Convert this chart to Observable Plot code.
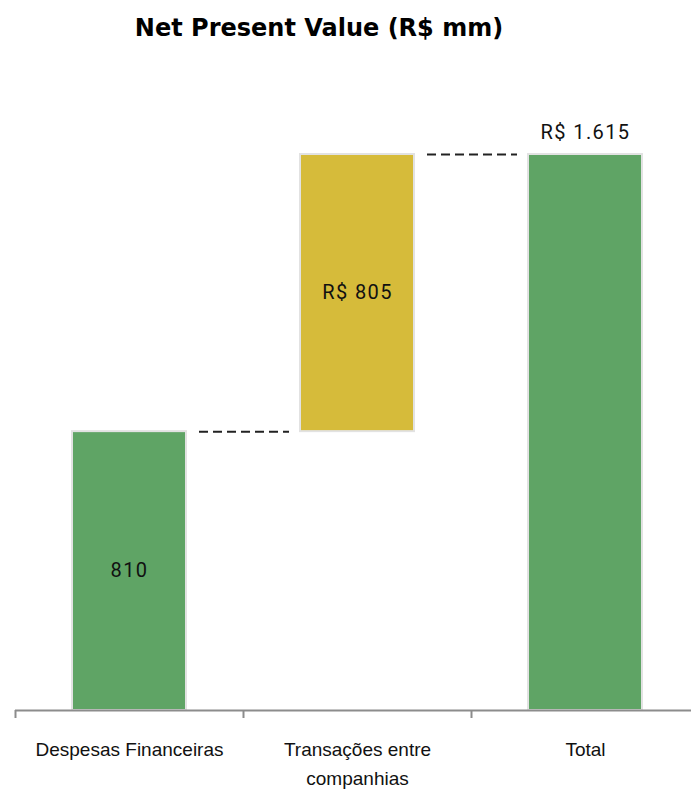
<!DOCTYPE html>
<html>
<head>
<meta charset="utf-8">
<script src="https://cdn.jsdelivr.net/npm/d3@7"></script>
<script src="https://cdn.jsdelivr.net/npm/@observablehq/plot@0.6"></script>
<style>
  html, body { margin: 0; padding: 0; background: #fff; }
  #title { width: 638px; height: 60px; text-align: center; font-family: "DejaVu Sans", sans-serif; font-weight: bold; font-size: 24px; line-height: 24px; padding-top: 16px; box-sizing: border-box; color: #000; }
  g[aria-description="value-label"] text { letter-spacing: 1.4px; }
</style>
</head>
<body>
<div id="title">Net Present Value (R$ mm)</div>
<div id="chart"></div>
<script>
const categories = ["Despesas Financeiras", "Transações entre companhias", "Total"];
const axisLabels = ["Despesas Financeiras", "Transações entre\ncompanhias", "Total"];
const values = [810, 805, 1615];
const bases = [0, 810, 0];
const valueLabels = ["810", "R$ 805", "R$ 1.615"];
const barColors = ["#5fa465", "#d6bb3a", "#5fa465"];

const rows = categories.map((c, i) => ({
  cat: c, base: bases[i], top: bases[i] + values[i], label: valueLabels[i], color: barColors[i], axis: axisLabels[i]
}));
const connectors = rows.slice(0, -1).map((r, i) => ({from: r.cat, to: rows[i + 1].cat, y: r.top}));

const W = 691, H = 732;
const step = 228, x0 = 15, barInset = 57;
const valueStyle = {fontFamily: "Roboto, sans-serif", fontSize: 20, fill: "#111", ariaDescription: "value-label"};

const chart = Plot.plot({
  width: W,
  height: H,
  marginLeft: x0,
  marginRight: 0,
  marginTop: 94,
  marginBottom: 82,
  style: {fontFamily: "Liberation Sans, Arial, sans-serif", background: "#fff"},
  x: {type: "band", domain: categories, range: [x0, x0 + step * categories.length], padding: 0, axis: null},
  y: {domain: [0, 1615], range: [650, 94], axis: null},
  marks: [
    Plot.barY(rows, {x: "cat", y1: "base", y2: "top", fill: "color", stroke: "#e2e2e2", strokeWidth: 2, insetLeft: barInset, insetRight: barInset}),
    Plot.ruleY(connectors, {x1: "from", x2: "to", y: "y", stroke: "#222", strokeWidth: 2, strokeDasharray: "9,5",
      insetLeft: step - barInset + 13, insetRight: step - barInset + 11}),
    Plot.text(rows.filter((d, i) => i < 2), {x: "cat", y: d => (d.base + d.top) / 2, text: "label", ...valueStyle}),
    Plot.text(rows.filter((d, i) => i === 2), {x: "cat", y: "top", text: "label", ...valueStyle, lineAnchor: "bottom", dy: -16}),
    Plot.ruleY([0], {stroke: "#8c8c8c", strokeWidth: 2}),
    Plot.axisX({tickSize: 8, tickFormat: () => "", dx: -step / 2, stroke: "#8c8c8c", strokeWidth: 2}),
    Plot.text(rows, {x: "cat", y: 0, text: "axis", fontFamily: "Liberation Sans, Arial, sans-serif", fontSize: 19, fill: "#111", lineAnchor: "top", dy: 25, lineHeight: 1.53})
  ]
});
document.getElementById("chart").appendChild(chart);
</script>
</body>
</html>
